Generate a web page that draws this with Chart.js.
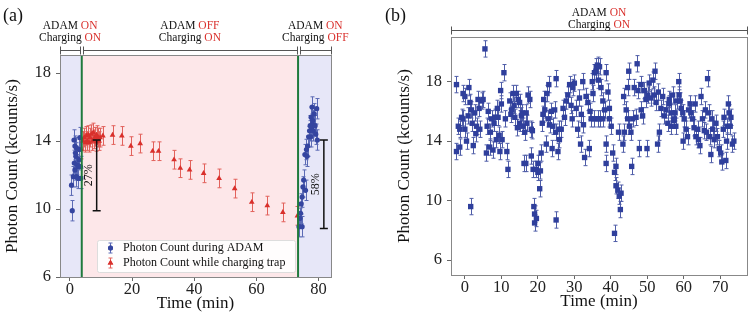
<!DOCTYPE html>
<html>
<head>
<meta charset="utf-8">
<script src="https://cdn.jsdelivr.net/npm/chart.js@4.4.0/dist/chart.umd.min.js"></script>
<style>
  body { margin: 0; background: #fff; }
  #wrap { position: relative; width: 751px; height: 319px; }
  canvas { position: absolute; top: 0; }
  #left { left: 0; }
  #right { left: 380px; }
</style>
</head>
<body>
<div id="wrap">
  <canvas id="left" width="380" height="319"></canvas>
  <canvas id="right" width="371" height="319"></canvas>
</div>
<script>
// ---- data (time in min, photon count in kcounts/s) ----
const adamPoints = [
  [0.5, 11.4], [0.75, 9.9], [1.1, 11.9], [1.3, 14.06], [1.4, 12.7], [1.6, 13.7], [1.6, 12.3],
  [1.8, 13.3], [1.9, 13.1], [2.1, 13.6], [2.1, 11.9], [2.4, 12.6], [2.7, 11.8], [2.7, 12.5],
  [2.9, 12.9], [3.0, 13.5], [3.2, 14.2], [3.4, 12.5], [3.5, 11.8],
  [73.7, 8.96], [74.0, 9.45], [74.2, 9.75], [74.4, 10.3], [74.7, 8.96], [74.7, 10.7], [75.0, 11.3],
  [75.2, 11.7], [75.8, 11.1], [75.6, 13.2], [76.1, 13.5], [76.3, 13.1], [76.5, 13.7], [76.8, 14.25],
  [77.1, 14.6], [77.3, 14.9], [77.5, 14.25], [77.6, 15.4], [77.8, 14.8], [77.9, 16.0], [78.0, 15.0],
  [78.1, 15.2], [78.3, 14.6], [78.6, 15.6], [78.9, 14.9], [79.1, 14.4], [79.4, 15.9], [79.6, 14.06]
];
const chargePoints = [
  [3.6, 13.5], [4.2, 14.0], [4.6, 14.2], [5.0, 13.9], [5.3, 14.3], [5.6, 14.0], [5.9, 14.35],
  [6.2, 13.9], [6.5, 14.2], [6.9, 14.4], [7.2, 14.0], [7.5, 14.5], [7.8, 14.1], [8.1, 14.25],
  [8.4, 13.95], [8.6, 14.35], [9.1, 14.2], [9.4, 14.0], [9.7, 14.2], [10.6, 14.3],
  [13.7, 14.35], [16.7, 14.3], [19.6, 13.7], [22.6, 13.85], [26.6, 13.4], [28.5, 13.4],
  [33.5, 12.9], [35.5, 12.4], [38.5, 12.3], [43.0, 12.1], [48.0, 11.8], [53.0, 11.2],
  [58.5, 10.4], [63.5, 10.2], [68.5, 9.8], [73.2, 9.6]
];
const rightPoints = [
  [-2.3, 17.8], [-2.3, 13.3], [-1.8, 15.0], [-1.4, 13.6], [-1.4, 14.8], [-0.9, 15.6], [-0.5, 17.2],
  [-0.5, 15.5], [0.0, 17.0], [0.0, 14.8], [0.45, 14.0], [0.9, 15.7], [1.1, 17.6], [1.4, 16.6],
  [1.6, 9.6], [1.8, 16.1], [2.0, 15.2], [2.3, 13.7], [2.7, 15.9], [3.0, 14.5], [3.2, 15.0],
  [3.6, 16.8], [3.9, 16.2], [4.1, 14.8], [4.6, 16.7], [5.0, 16.8], [5.5, 20.2], [5.9, 13.2],
  [6.1, 15.0], [6.4, 16.0], [6.8, 13.6], [7.0, 14.6], [7.3, 15.5], [7.7, 13.4], [8.0, 15.2],
  [8.2, 15.6], [8.6, 14.1], [8.9, 16.2], [9.1, 15.6], [9.4, 14.4], [9.6, 13.3], [9.8, 17.4],
  [10.0, 16.5], [10.2, 14.1], [10.7, 18.6], [11.1, 15.5], [11.5, 13.3], [11.8, 12.1], [12.3, 16.7],
  [12.6, 15.8], [12.8, 16.1], [13.2, 17.2], [13.5, 16.4], [13.7, 15.6], [14.1, 17.2], [14.4, 14.9],
  [14.6, 16.8], [15.0, 15.2], [15.0, 16.6], [15.5, 15.7], [15.7, 15.9], [15.9, 15.0], [16.2, 12.5],
  [16.4, 14.6], [16.7, 12.5], [16.8, 15.9], [17.0, 15.2], [17.3, 17.1], [17.8, 16.8], [18.2, 14.8],
  [18.2, 13.0], [18.5, 14.7], [18.7, 12.1], [18.9, 9.6], [19.1, 9.1], [19.1, 8.5], [19.6, 8.8],
  [19.6, 12.1], [20.0, 11.9], [20.0, 12.5], [20.5, 10.8], [20.7, 12.0], [20.9, 13.2], [21.2, 15.2],
  [21.4, 15.8], [21.6, 16.8], [21.9, 16.1], [22.3, 13.8], [22.5, 17.2], [22.8, 15.5], [23.0, 17.8],
  [23.2, 15.1], [23.7, 16.0], [23.9, 13.5], [24.1, 15.0], [24.6, 16.1], [24.9, 14.6], [25.0, 18.2],
  [25.0, 8.7], [25.5, 13.3], [25.8, 14.8], [25.9, 14.1], [26.4, 14.8], [26.9, 16.2], [27.3, 15.6],
  [27.8, 16.7], [28.2, 17.1], [28.7, 17.8], [29.1, 16.4], [29.4, 15.5], [29.6, 17.6], [30.0, 17.9],
  [30.5, 16.2], [30.9, 14.8], [31.4, 16.9], [31.7, 13.8], [31.9, 15.8], [32.3, 18.0], [32.5, 15.1],
  [32.8, 12.9], [33.2, 17.0], [33.7, 16.6], [34.1, 13.5], [34.3, 16.0], [34.6, 15.5], [34.9, 18.0],
  [35.1, 17.2], [35.5, 15.5], [35.5, 18.6], [35.9, 18.7], [36.0, 19.0], [36.4, 19.1], [36.4, 15.5],
  [36.6, 18.1], [36.9, 19.0], [36.9, 15.5], [37.3, 17.6], [37.8, 16.7], [37.8, 15.5], [38.3, 16.1],
  [38.7, 18.6], [38.7, 13.8], [38.7, 12.5], [39.2, 17.3], [39.6, 15.5], [39.6, 16.2], [40.1, 15.0],
  [40.5, 13.2], [41.0, 11.9], [41.0, 7.8], [41.4, 11.0], [41.4, 12.3], [41.9, 10.7], [42.1, 14.6],
  [42.3, 10.3], [42.6, 9.4], [42.8, 10.5], [43.3, 13.8], [43.5, 17.0], [43.7, 14.6], [44.2, 16.1],
  [44.6, 17.6], [44.6, 15.5], [44.9, 18.7], [45.1, 15.0], [45.5, 14.6], [45.7, 12.3], [46.0, 15.5],
  [46.4, 17.6], [46.9, 15.6], [47.2, 19.2], [47.4, 17.4], [47.8, 13.5], [48.3, 17.8], [48.3, 16.1],
  [48.7, 15.7], [49.2, 17.4], [49.6, 16.8], [49.9, 13.5], [50.1, 17.1], [50.5, 17.9], [51.0, 16.9],
  [51.5, 18.1], [51.9, 17.1], [52.1, 18.7], [52.4, 16.6], [52.8, 13.8], [53.0, 17.3], [53.3, 14.6],
  [53.7, 16.2], [54.2, 17.0], [54.6, 15.7], [55.1, 16.1], [55.6, 15.2], [56.0, 16.5], [56.0, 16.8],
  [56.5, 15.9], [56.5, 15.0], [56.9, 17.1], [57.2, 15.4], [57.4, 15.5], [57.6, 15.9], [57.8, 15.0],
  [58.0, 16.7], [58.6, 18.0], [58.7, 17.1], [59.0, 16.7], [59.3, 16.2], [59.7, 15.9], [59.8, 14.0],
  [60.1, 15.5], [60.6, 14.8], [61.0, 14.3], [61.3, 16.1], [61.7, 16.5], [61.9, 15.9], [62.4, 15.5],
  [62.8, 14.9], [63.1, 16.5], [63.3, 14.3], [63.8, 14.8], [64.0, 14.1], [64.4, 13.7], [64.7, 17.0],
  [65.1, 15.5], [65.6, 14.7], [65.9, 16.1], [66.2, 14.6], [66.5, 18.2], [66.8, 15.9], [67.1, 14.3],
  [67.4, 13.1], [67.7, 15.5], [67.9, 14.8], [68.3, 14.1], [68.8, 15.2], [69.2, 14.3], [69.7, 13.5],
  [70.1, 13.2], [70.4, 12.6], [70.8, 14.8], [71.0, 15.6], [71.5, 12.7], [71.7, 14.0], [71.9, 15.0],
  [72.2, 16.5], [72.4, 15.9], [72.7, 15.0], [72.9, 15.6], [73.3, 13.8], [73.7, 14.0]
];
const adamErr = 0.6;
const chargeErr = 0.55;
const rightErr = 0.55;

const leftXTicks = [0, 20, 40, 60, 80];
const leftYTicks = [6, 10, 14, 18];
const rightXTicks = [0, 10, 20, 30, 40, 50, 60, 70];
const rightYTicks = [6, 10, 14, 18];

const switchTimes = [3.8, 73.4];
const drops = [
  { t: 8.6, from: 14.06, to: 9.9, label: '27%' },
  { t: 81.7, from: 14.06, to: 8.86, label: '58%' }
];

// ---- styling helpers ----
const SERIF = '"Liberation Serif", "DejaVu Serif", serif';
const RED = '#d9302c';
const BLUE = '#3545a0';
const toXY = arr => arr.map(p => ({ x: p[0], y: p[1] }));

function mixText(ctx, parts, cx, y) {
  let total = 0;
  parts.forEach(p => total += ctx.measureText(p[0]).width);
  let x = cx - total / 2;
  ctx.textAlign = 'left';
  parts.forEach(p => {
    ctx.fillStyle = p[1];
    ctx.fillText(p[0], x, y);
    x += ctx.measureText(p[0]).width;
  });
}

function bracket(ctx, x1, x2, y) {
  ctx.beginPath();
  ctx.moveTo(x1, y); ctx.lineTo(x2, y);
  ctx.moveTo(x1, y - 4); ctx.lineTo(x1, y + 4);
  ctx.moveTo(x2, y - 4); ctx.lineTo(x2, y + 4);
  ctx.stroke();
}

function vText(ctx, text, x, y) {
  ctx.save();
  ctx.translate(x, y);
  ctx.rotate(-Math.PI / 2);
  ctx.textAlign = 'center';
  ctx.textBaseline = 'middle';
  ctx.fillText(text, 0, 0);
  ctx.restore();
}

const errorBars = {
  id: 'errorBars',
  beforeDatasetsDraw(chart) {
    const { ctx, scales: { x, y } } = chart;
    chart.data.datasets.forEach(ds => {
      ctx.save();
      ctx.strokeStyle = ds.errColor;
      ctx.lineWidth = 1;
      ctx.beginPath();
      ds.data.forEach(p => {
        const px = Math.round(x.getPixelForValue(p.x)) + 0.5;
        const top = y.getPixelForValue(p.y + ds.err);
        const bot = y.getPixelForValue(p.y - ds.err);
        ctx.moveTo(px, top); ctx.lineTo(px, bot);
        ctx.moveTo(px - 2, top); ctx.lineTo(px + 2, top);
        ctx.moveTo(px - 2, bot); ctx.lineTo(px + 2, bot);
      });
      ctx.stroke();
      ctx.restore();
    });
  }
};

const frame = {
  id: 'frame',
  afterDraw(chart) {
    const { ctx, chartArea: a } = chart;
    ctx.save();
    ctx.strokeStyle = '#888';
    ctx.lineWidth = 1;
    ctx.strokeRect(Math.round(a.left) + 0.5, Math.round(a.top) + 0.5,
      Math.round(a.right - a.left), Math.round(a.bottom - a.top));
    ctx.restore();
  }
};

function axisTitles(xTitle, yTitle, yTitleX, xTitleY) {
  return {
    id: 'axisTitles',
    afterDraw(chart) {
      const { ctx, chartArea: a } = chart;
      ctx.save();
      ctx.fillStyle = '#111';
      ctx.font = '17px ' + SERIF;
      ctx.textAlign = 'center';
      ctx.textBaseline = 'middle';
      ctx.fillText(xTitle, (a.left + a.right) / 2, xTitleY);
      vText(ctx, yTitle, yTitleX, (a.top + a.bottom) / 2);
      ctx.restore();
    }
  };
}

function scaleOpts(min, max, ticks, isY, fit) {
  return {
    type: 'linear',
    min: min,
    max: max,
    afterBuildTicks: s => { s.ticks = ticks.map(v => ({ value: v })); },
    afterFit: s => { if (isY) s.width = fit; else s.height = fit; },
    ticks: {
      color: '#222',
      font: { family: SERIF, size: 16.5 },
      padding: isY ? 5 : -1,
      maxRotation: 0,
      autoSkip: false
    },
    grid: { drawOnChartArea: false, drawTicks: true, tickLength: 4, color: '#666' },
    border: { color: '#888' }
  };
}

// ---- left panel ----
const leftDecor = {
  id: 'leftDecor',
  beforeDraw(chart) {
    const { ctx, chartArea: a, scales: { x } } = chart;
    const s1 = x.getPixelForValue(switchTimes[0]);
    const s2 = x.getPixelForValue(switchTimes[1]);
    ctx.save();
    ctx.fillStyle = '#e7e7f8';
    ctx.fillRect(a.left, a.top, s1 - a.left, a.bottom - a.top);
    ctx.fillRect(s2, a.top, a.right - s2, a.bottom - a.top);
    ctx.fillStyle = '#fde7e9';
    ctx.fillRect(s1, a.top, s2 - s1, a.bottom - a.top);
    ctx.restore();
  },
  afterDatasetsDraw(chart) {
    const { ctx, chartArea: a, scales: { x, y } } = chart;
    ctx.save();
    // switch lines
    ctx.strokeStyle = '#1f7a3c';
    ctx.lineWidth = 2;
    switchTimes.forEach(t => {
      const px = x.getPixelForValue(t);
      ctx.beginPath(); ctx.moveTo(px, a.top); ctx.lineTo(px, a.bottom); ctx.stroke();
    });
    // drop brackets
    ctx.strokeStyle = '#111';
    ctx.lineWidth = 1.5;
    ctx.fillStyle = '#111';
    ctx.font = '12px ' + SERIF;
    drops.forEach(d => {
      const px = x.getPixelForValue(d.t);
      const y1 = y.getPixelForValue(d.from), y2 = y.getPixelForValue(d.to);
      ctx.beginPath();
      ctx.moveTo(px, y1); ctx.lineTo(px, y2);
      ctx.moveTo(px - 4, y1); ctx.lineTo(px + 4, y1);
      ctx.moveTo(px - 4, y2); ctx.lineTo(px + 4, y2);
      ctx.stroke();
      vText(ctx, d.label, px - 8, (y1 + y2) / 2);
    });
    // legend
    const lx = 97, ly = 240, lw = 198, lh = 32;
    ctx.fillStyle = 'rgba(255,255,255,0.9)';
    ctx.strokeStyle = '#ddd';
    ctx.lineWidth = 1;
    ctx.beginPath();
    ctx.roundRect(lx + 0.5, ly + 0.5, lw, lh, 2);
    ctx.fill(); ctx.stroke();
    const rows = [
      { text: 'Photon Count during ADAM', color: BLUE, err: '#5c6bb5', shape: 'circle' },
      { text: 'Photon Count while charging trap', color: RED, err: '#e2625c', shape: 'triangle' }
    ];
    rows.forEach((r, i) => {
      const cy = ly + 8 + i * 15, cx = lx + 13;
      ctx.strokeStyle = r.err;
      ctx.lineWidth = 1;
      ctx.beginPath();
      ctx.moveTo(cx + 0.5, cy - 5); ctx.lineTo(cx + 0.5, cy + 5);
      ctx.moveTo(cx - 1.5, cy - 5); ctx.lineTo(cx + 2.5, cy - 5);
      ctx.moveTo(cx - 1.5, cy + 5); ctx.lineTo(cx + 2.5, cy + 5);
      ctx.stroke();
      ctx.fillStyle = r.color;
      Chart.helpers.drawPoint(ctx, { pointStyle: r.shape, radius: r.shape === 'circle' ? 2.5 : 3.2, rotation: 0, borderWidth: 0 }, cx + 0.5, cy);
      ctx.fill();
      ctx.fillStyle = '#111';
      ctx.font = '12px ' + SERIF;
      ctx.textAlign = 'left';
      ctx.textBaseline = 'middle';
      ctx.fillText(r.text, lx + 26, cy);
    });
    ctx.restore();
  },
  afterDraw(chart) {
    const { ctx, chartArea: a, scales: { x } } = chart;
    const s1 = x.getPixelForValue(switchTimes[0]);
    const s2 = x.getPixelForValue(switchTimes[1]);
    ctx.save();
    ctx.fillStyle = '#111';
    ctx.font = '18px ' + SERIF;
    ctx.textAlign = 'left';
    ctx.textBaseline = 'middle';
    ctx.fillText('(a)', 3, 16);
    // state brackets
    ctx.strokeStyle = '#555';
    ctx.lineWidth = 1;
    const segs = [[a.left, s1 - 1.5], [s1 + 1.5, s2 - 1.5], [s2 + 1.5, a.right]];
    const labels = [['ON', 'ON'], ['OFF', 'ON'], ['ON', 'OFF']];
    ctx.font = '11.5px ' + SERIF;
    ctx.textBaseline = 'middle';
    segs.forEach((sg, i) => {
      bracket(ctx, Math.round(sg[0]) + 0.5, Math.round(sg[1]) + 0.5, 50.5);
      const cx = (sg[0] + sg[1]) / 2;
      mixText(ctx, [['ADAM ', '#111'], [labels[i][0], RED]], cx, 26);
      mixText(ctx, [['Charging ', '#111'], [labels[i][1], RED]], cx, 38);
    });
    ctx.restore();
  }
};

new Chart(document.getElementById('left'), {
  type: 'scatter',
  data: {
    datasets: [
      {
        label: 'Photon Count during ADAM',
        data: toXY(adamPoints),
        err: adamErr,
        errColor: '#5c6bb5',
        pointStyle: 'circle',
        pointRadius: 2.6,
        backgroundColor: BLUE,
        borderWidth: 0
      },
      {
        label: 'Photon Count while charging trap',
        data: toXY(chargePoints),
        err: chargeErr,
        errColor: '#e2625c',
        pointStyle: 'triangle',
        pointRadius: 3.3,
        backgroundColor: RED,
        borderWidth: 0
      }
    ]
  },
  options: {
    responsive: false,
    animation: false,
    layout: { padding: { left: 0, top: 55, right: 49, bottom: 0 } },
    plugins: { legend: { display: false }, tooltip: { enabled: false } },
    scales: {
      x: scaleOpts(-3.2, 84, leftXTicks, false, 42),
      y: scaleOpts(6, 19.06, leftYTicks, true, 60)
    }
  },
  plugins: [leftDecor, errorBars, frame, axisTitles('Time (min)', 'Photon Count (kcounts/s)', 13, 304)]
});

// ---- right panel ----
const rightDecor = {
  id: 'rightDecor',
  afterDraw(chart) {
    const { ctx, chartArea: a } = chart;
    ctx.save();
    ctx.fillStyle = '#111';
    ctx.font = '18px ' + SERIF;
    ctx.textAlign = 'left';
    ctx.textBaseline = 'middle';
    ctx.fillText('(b)', 5, 16);
    ctx.strokeStyle = '#555';
    ctx.lineWidth = 1;
    bracket(ctx, Math.round(a.left) + 0.5, Math.round(a.right) + 0.5, 30.5);
    ctx.font = '11.5px ' + SERIF;
    const cx = (a.left + a.right) / 2;
    mixText(ctx, [['ADAM ', '#111'], ['ON', RED]], cx, 13);
    mixText(ctx, [['Charging ', '#111'], ['ON', RED]], cx, 25);
    ctx.restore();
  }
};

new Chart(document.getElementById('right'), {
  type: 'scatter',
  data: {
    datasets: [{
      label: 'Photon Count',
      data: toXY(rightPoints),
      err: rightErr,
      errColor: '#4f5da8',
      pointStyle: 'rect',
      pointRadius: 3.8,
      backgroundColor: '#2f3f9c',
      borderWidth: 0
    }]
  },
  options: {
    responsive: false,
    animation: false,
    layout: { padding: { left: 0, top: 37, right: 3, bottom: 0 } },
    plugins: { legend: { display: false }, tooltip: { enabled: false } },
    scales: {
      x: scaleOpts(-3.8, 77.3, rightXTicks, false, 44),
      y: scaleOpts(5, 21, rightYTicks, true, 71)
    }
  },
  plugins: [rightDecor, errorBars, frame, axisTitles('Time (min)', 'Photon Count (kcounts/s)', 25, 302)]
});
</script>
</body>
</html>
